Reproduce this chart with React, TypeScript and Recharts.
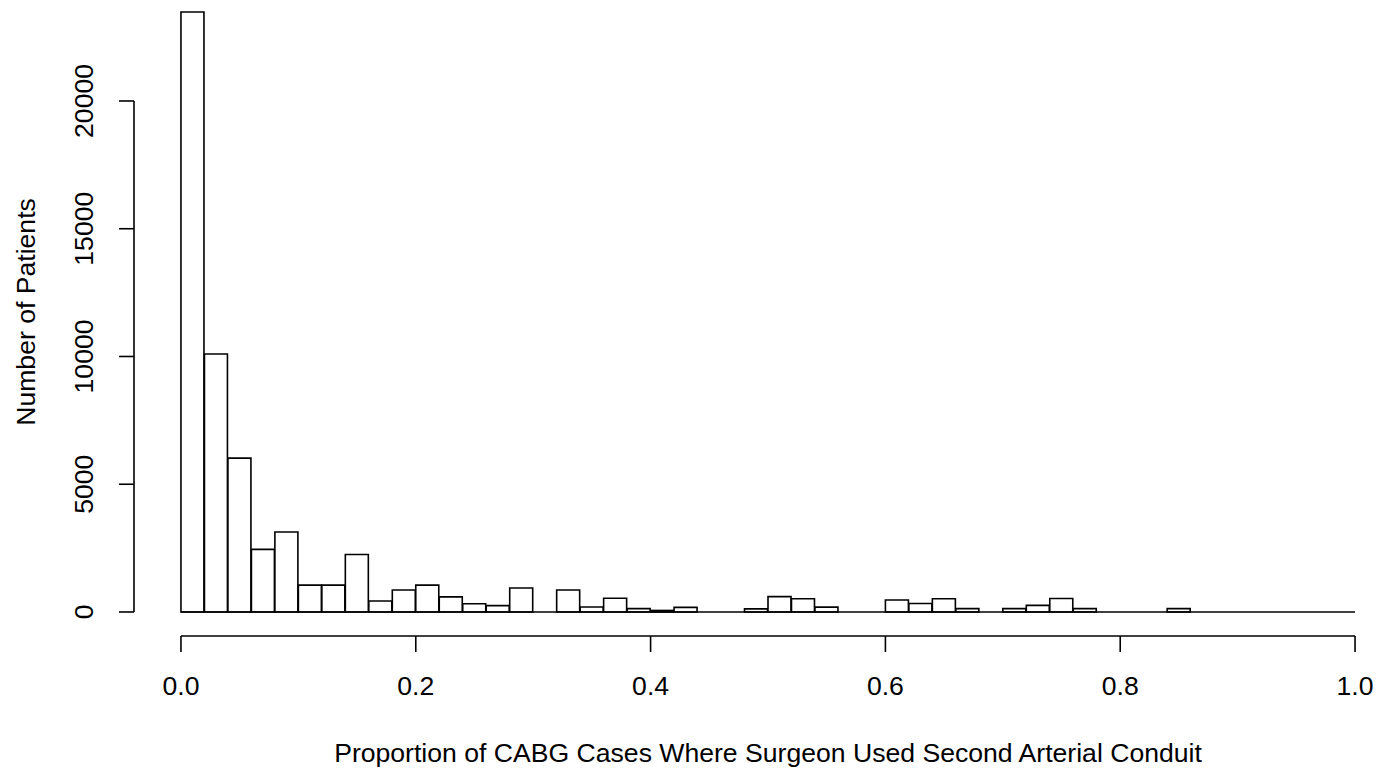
import { BarChart, Bar, XAxis, YAxis, ReferenceLine } from 'recharts'

// histogram bins of width 0.02, centred values
const binMids = [
  0.01, 0.03, 0.05, 0.07, 0.09, 0.11, 0.13, 0.15, 0.17, 0.19,
  0.21, 0.23, 0.25, 0.27, 0.29, 0.31, 0.33, 0.35, 0.37, 0.39,
  0.41, 0.43, 0.45, 0.47, 0.49, 0.51, 0.53, 0.55, 0.57, 0.59,
  0.61, 0.63, 0.65, 0.67, 0.69, 0.71, 0.73, 0.75, 0.77, 0.79,
  0.81, 0.83, 0.85, 0.87, 0.89, 0.91, 0.93, 0.95, 0.97, 0.99
]

const patientCounts = [
  23480, 10100, 6020, 2450, 3130, 1050, 1050, 2250, 430, 860,
  1050, 590, 320, 250, 940, 0, 860, 195, 535, 130,
  60, 180, 0, 0, 120, 600, 520, 190, 0, 0,
  470, 330, 520, 130, 0, 130, 260, 530, 130, 0,
  0, 0, 130, 0, 0, 0, 0, 0, 0, 0
]

const xTicks = [0, 0.2, 0.4, 0.6, 0.8, 1.0]
const yTicks = [0, 5000, 10000, 15000, 20000]

const xTitle = 'Proportion of CABG Cases Where Surgeon Used Second Arterial Conduit'
const yTitle = 'Number of Patients'

// R-style extended domains (4% padding each side)
const xDomain: [number, number] = [-0.04, 1.04]
const yDomain: [number, number] = [-940, 24422]

const data = binMids.map((mid, i) => ({ mid, count: patientCounts[i] }))

const FONT = '"Liberation Sans", Arial, Helvetica, sans-serif'
const FS = 26.6

const YTick = (props: any) => {
  const { x, y, payload } = props
  return (
    <text
      transform={`translate(${x},${y}) rotate(-90)`}
      textAnchor="middle"
      fontSize={FS}
      fontFamily={FONT}
      fill="#000"
    >
      {payload.value}
    </text>
  )
}

export default function App() {
  return (
    <div style={{ position: 'absolute', left: 0, top: 0, width: 1384, height: 773, overflow: 'hidden', background: '#fff' }}>
      <BarChart
        width={1420}
        height={773}
        data={data}
        margin={{ top: -12, right: 18, left: 0, bottom: 0 }}
        barCategoryGap={0}
        barGap={0}
      >
        <XAxis
          type="number"
          dataKey="mid"
          domain={xDomain}
          ticks={xTicks}
          allowDataOverflow
          height={137}
          axisLine={false}
          tickSize={16}
          tickMargin={24}
          tickLine={{ stroke: '#000', strokeWidth: 1.6 }}
          tick={{ fill: '#000', fontSize: FS, fontFamily: FONT }}
          tickFormatter={(v: number) => v.toFixed(1)}
          label={(p: any) => {
            const vb = p.viewBox
            return (
              <text x={vb.x + vb.width / 2} y={762} textAnchor="middle" fontSize={FS} fontFamily={FONT} fill="#000">
                {xTitle}
              </text>
            )
          }}
        />
        <YAxis
          type="number"
          domain={yDomain}
          ticks={yTicks}
          allowDataOverflow
          width={134}
          axisLine={false}
          tickSize={15}
          tickMargin={26}
          tickLine={{ stroke: '#000', strokeWidth: 1.6 }}
          tick={<YTick />}
          label={(p: any) => {
            const vb = p.viewBox
            return (
              <text
                transform={`translate(35,${vb.y + vb.height / 2}) rotate(-90)`}
                textAnchor="middle"
                fontSize={FS}
                fontFamily={FONT}
                fill="#000"
              >
                {yTitle}
              </text>
            )
          }}
        />
        {/* zero-height bins still show as a baseline in R */}
        <ReferenceLine segment={[{ x: 0, y: 0 }, { x: 1, y: 0 }]} stroke="#000" strokeWidth={1.6} />
        {/* detached axis lines */}
        <ReferenceLine segment={[{ x: 0, y: yDomain[0] }, { x: 1, y: yDomain[0] }]} stroke="#000" strokeWidth={1.6} />
        <ReferenceLine segment={[{ x: xDomain[0], y: 0 }, { x: xDomain[0], y: 20000 }]} stroke="#000" strokeWidth={1.6} />
        <Bar dataKey="count" fill="#fff" stroke="#000" strokeWidth={1.6} isAnimationActive={false} />
      </BarChart>
    </div>
  )
}
